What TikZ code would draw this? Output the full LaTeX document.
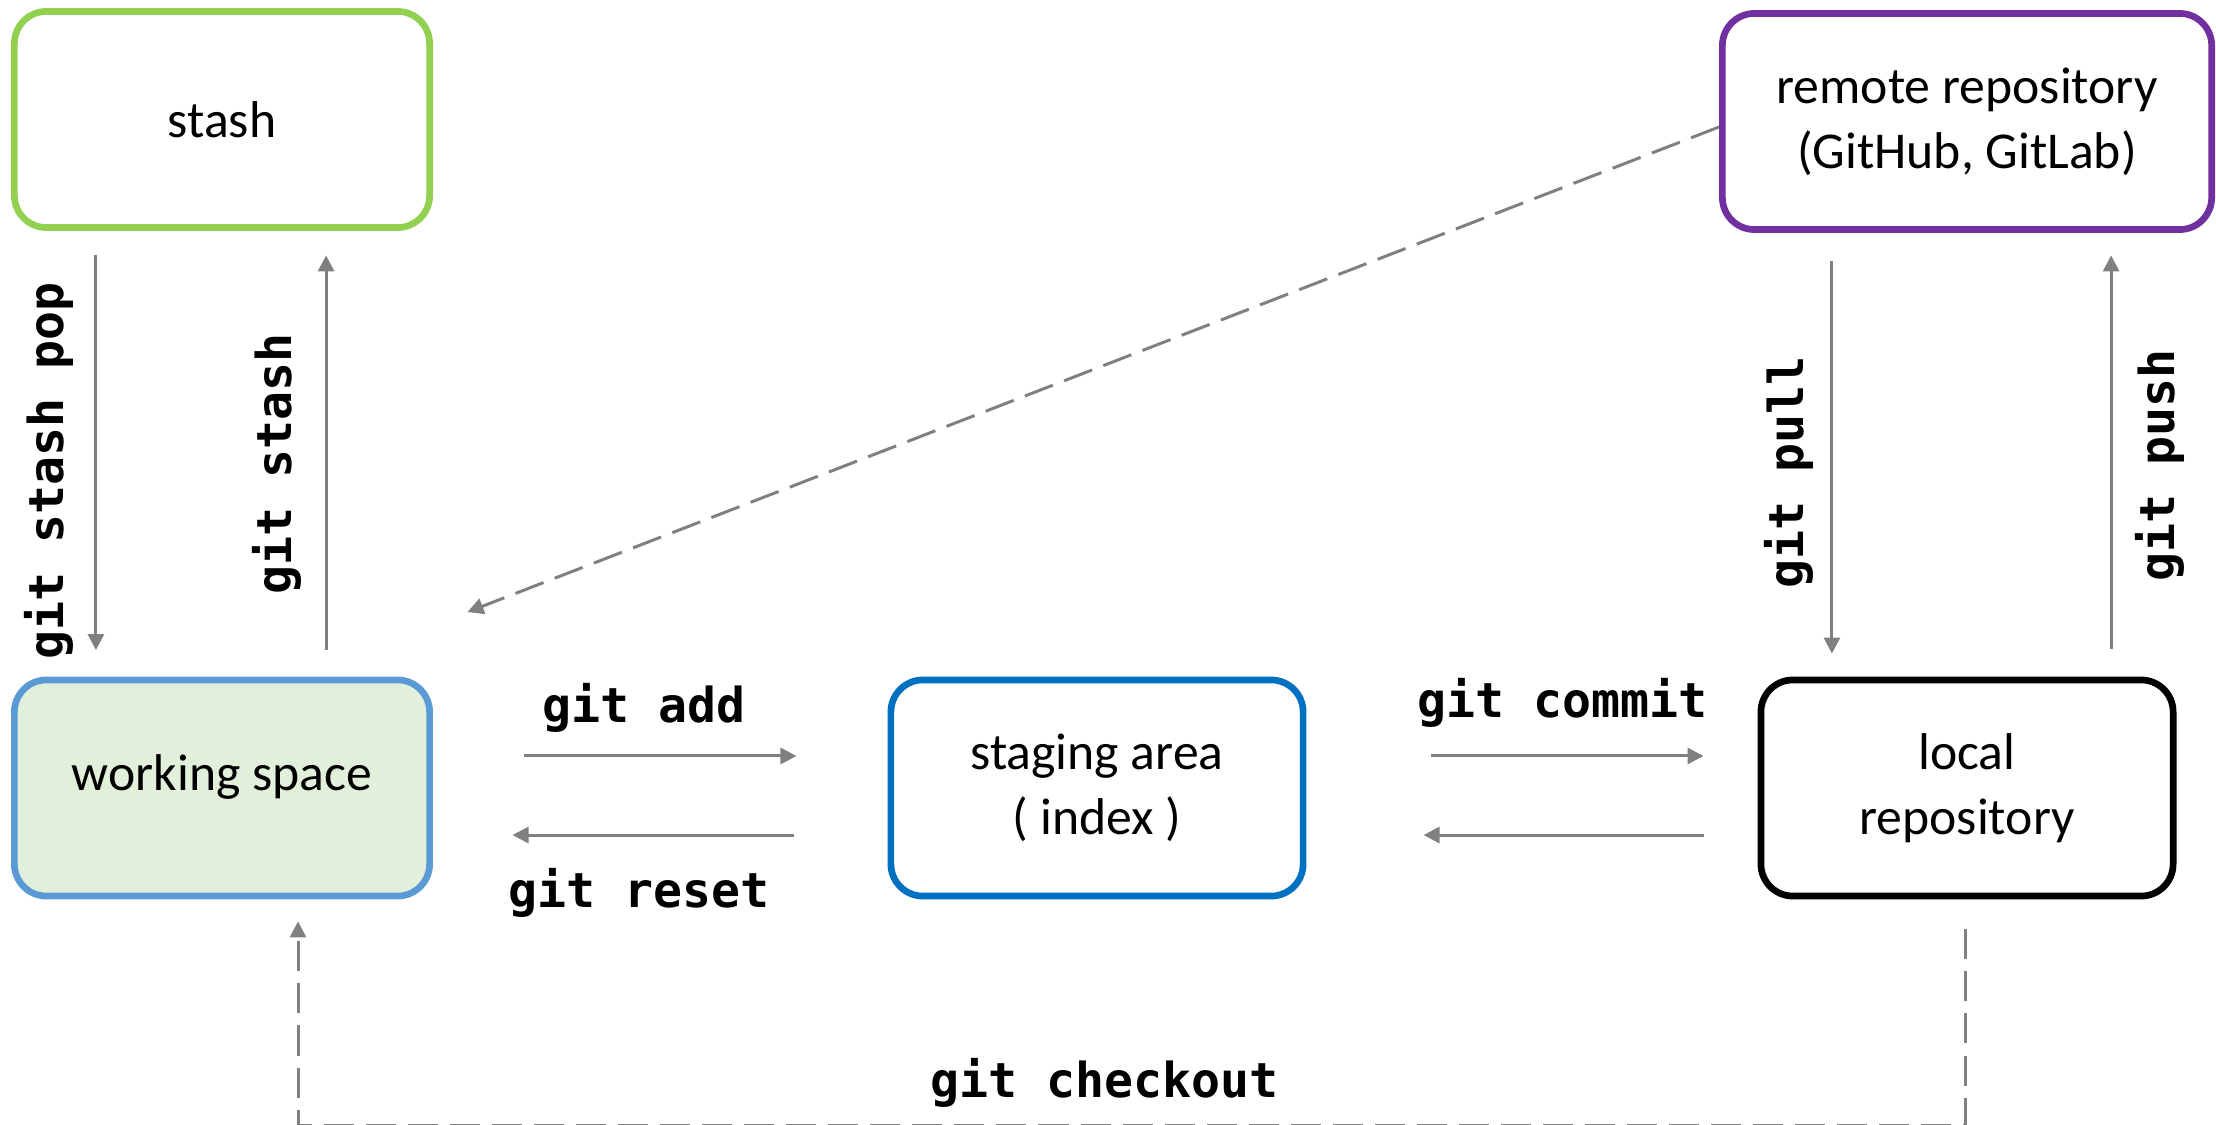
\documentclass[tikz,border=0pt]{standalone}
\usepackage{fontspec}
\setmainfont{Carlito}
\newfontfamily\gitfont{DejaVu Sans Mono}
\usetikzlibrary{arrows.meta,calc}

\definecolor{stashgreen}{HTML}{92D050}
\definecolor{wsblue}{HTML}{5B9BD5}
\definecolor{wsfill}{HTML}{E2EFDA}
\definecolor{stageblue}{HTML}{0070C0}
\definecolor{remotepurple}{HTML}{7030A0}
\definecolor{arrgray}{HTML}{808080}

\begin{document}
\begin{tikzpicture}[x=0.01cm, y=-0.01cm,
  box/.style={draw, rounded corners=0.32cm, line width=1.9pt, minimum width=4.12cm, minimum height=2.16cm, align=center, font=\fontsize{14.7pt}{18.5pt}\selectfont},
  cmd/.style={font=\gitfont\bfseries\fontsize{13.7pt}{16pt}\selectfont, inner sep=0pt},
  arr/.style={draw=arrgray, line width=0.85pt, -{Triangle[length=0.16cm,width=0.16cm]}},
  dashedarr/.style={arr, dash pattern=on 0.3cm off 0.12cm}]
  \useasboundingbox (0,0) rectangle (2216,1125);

  \node[box, draw=stashgreen, minimum width=4.15cm] (stash) at (222,119.5) {stash};
  \node[box, draw=wsblue, fill=wsfill, minimum width=4.15cm, text depth=0.3cm] (ws) at (222,788) {working space};
  \node[box, draw=stageblue] (stage) at (1097,788) {staging area\\( index )};
  \node[box, draw=black] (local) at (1967,788) {local\\repository};
  \node[box, draw=remotepurple, minimum width=4.89cm] (remote) at (1967,121.5) {remote repository\\(GitHub, GitLab)};

  % stash
  \draw[arr, shorten <=0.245cm, shorten >=0.265cm] ([xshift=-1.26cm]stash.south) -- node[cmd, pos=0.538, rotate=90, anchor=south, outer sep=0.22cm] {git stash pop} ([xshift=-1.26cm]ws.north);
  \draw[arr, shorten <=0.265cm, shorten >=0.245cm] ([xshift=1.04cm]ws.north) -- node[cmd, pos=0.477, rotate=90, anchor=south, outer sep=0.25cm] {git stash} ([xshift=1.04cm]stash.south);

  % add / reset
  \draw[arr, shorten <=0.905cm, shorten >=0.91cm] ([yshift=0.32cm]ws.east) -- node[cmd, above, outer sep=0.23cm, pos=0.465] {git add} ([yshift=0.32cm]stage.west);
  \draw[arr, shorten <=0.94cm, shorten >=0.795cm] ([yshift=-0.47cm]stage.west) -- node[cmd, below, outer sep=0.33cm, pos=0.546] {git reset} ([yshift=-0.47cm]ws.east);

  % commit
  \draw[arr, shorten <=1.24cm, shorten >=0.54cm] ([yshift=0.32cm]stage.east) -- node[cmd, above, outer sep=0.28cm, pos=0.568] {git commit} ([yshift=0.32cm]local.west);
  \draw[arr, shorten <=0.54cm, shorten >=1.17cm] ([yshift=-0.47cm]local.west) -- ([yshift=-0.47cm]stage.east);

  % pull / push
  \draw[arr, shorten <=0.285cm, shorten >=0.23cm] ([xshift=-1.35cm]remote.south) -- node[cmd, pos=0.54, rotate=90, anchor=south, outer sep=0.18cm] {git pull} ([xshift=-1.35cm]local.north);
  \draw[arr, shorten <=0.28cm, shorten >=0.225cm] ([xshift=1.44cm]local.north) -- node[cmd, pos=0.475, rotate=90, anchor=north, outer sep=0.24cm] {git push} ([xshift=1.44cm]remote.south);

  % remote -> working space
  \draw[dashedarr] ([yshift=-0.055cm]remote.west) -- ($(ws.north east)+(0.345cm,0.645cm)$);

  % checkout
  \draw[dashedarr, shorten <=0.30cm, shorten >=0.22cm] ([xshift=-0.02cm]local.south) |- node[cmd, pos=0.758, yshift=0.425cm] {git checkout} ([xshift=0.76cm,yshift=-2.26cm]ws.south) -- ([xshift=0.76cm]ws.south);
\end{tikzpicture}
\end{document}
